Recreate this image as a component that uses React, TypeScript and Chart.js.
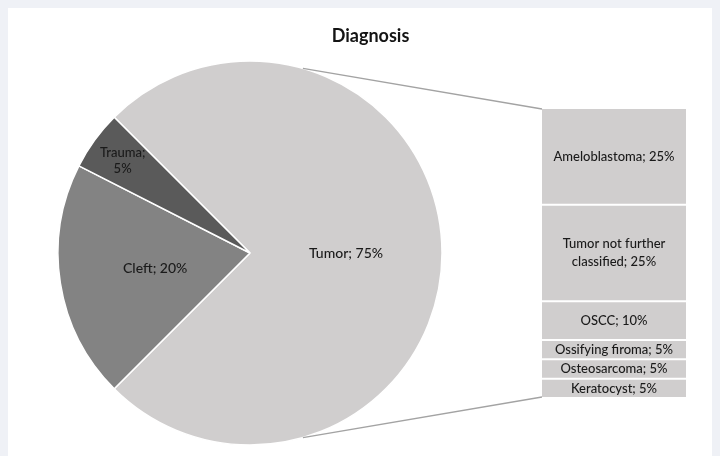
import { useEffect, useRef } from "react";
import Chart from "chart.js/auto";

// Main breakdown (percent of all cases)
const pieLabels = ["Tumor", "Cleft", "Trauma"];
const pieValues = [75, 20, 5];

// Breakdown of the tumor share (percent of all cases)
const tumorLabels = [
  "Ameloblastoma",
  "Tumor not further classified",
  "OSCC",
  "Ossifying firoma",
  "Osteosarcoma",
  "Keratocyst",
];
const tumorValues = [25, 25, 10, 5, 5, 5];

const chartTitle = "Diagnosis";

const W = 712;
const H = 448;
const LIGHT = "#d0cece";
const pieColors = [LIGHT, "#838383", "#5a5a5a"];
const FONT = "Lato, 'Open Sans', sans-serif";
const TEXT = "#1a1a1a";

function wrapText(ctx: CanvasRenderingContext2D, text: string, maxWidth: number): string[] {
  const words = text.split(" ");
  const lines: string[] = [];
  let line = "";
  for (const w of words) {
    const test = line ? line + " " + w : w;
    if (line && ctx.measureText(test).width > maxWidth) {
      lines.push(line);
      line = w;
    } else {
      line = test;
    }
  }
  if (line) lines.push(line);
  return lines;
}

const pieLabelPlugin = {
  id: "pieLabels",
  afterDatasetsDraw(chart: any) {
    const ctx: CanvasRenderingContext2D = chart.ctx;
    const meta = chart.getDatasetMeta(0);
    const total = pieValues.reduce((a, b) => a + b, 0);
    ctx.save();
    ctx.fillStyle = TEXT;
    ctx.textAlign = "center";
    ctx.textBaseline = "middle";
    meta.data.forEach((arc: any, i: number) => {
      const { x, y, startAngle, endAngle, outerRadius } = arc.getProps(
        ["x", "y", "startAngle", "endAngle", "outerRadius"],
        true
      );
      const mid = (startAngle + endAngle) / 2;
      const narrow = pieValues[i] / total < 0.1;
      const r = outerRadius * (narrow ? 0.82 : 0.5);
      const px = x + Math.cos(mid) * r;
      const py = y + Math.sin(mid) * r;
      if (narrow) {
        ctx.font = `500 13px ${FONT}`;
        const lines = [`${pieLabels[i]};`, `${pieValues[i]}%`];
        lines.forEach((l, k) => ctx.fillText(l, px, py + (k - (lines.length - 1) / 2) * 16));
      } else {
        ctx.font = `500 14px ${FONT}`;
        ctx.fillText(`${pieLabels[i]}; ${pieValues[i]}%`, px, py);
      }
    });
    ctx.restore();
  },
};

const barLabelPlugin = {
  id: "barLabels",
  afterDatasetsDraw(chart: any) {
    const ctx: CanvasRenderingContext2D = chart.ctx;
    ctx.save();
    ctx.fillStyle = TEXT;
    ctx.textAlign = "center";
    ctx.textBaseline = "middle";
    ctx.font = `500 13px ${FONT}`;
    tumorLabels.forEach((name, i) => {
      const el = chart.getDatasetMeta(i).data[0];
      const { x, y, base, width } = el.getProps(["x", "y", "base", "width"], true);
      const cy = (y + base) / 2;
      const lines = wrapText(ctx, `${name}; ${tumorValues[i]}%`, width - 8);
      const lh = 18;
      lines.forEach((l, k) => ctx.fillText(l, x, cy + (k - (lines.length - 1) / 2) * lh));
    });
    ctx.restore();
  },
};

export default function App() {
  const pieRef = useRef<HTMLCanvasElement>(null);
  const barRef = useRef<HTMLCanvasElement>(null);

  useEffect(() => {
    document.documentElement.style.overflow = "hidden";
    document.body.style.background = "#eff1f6";

    const pie = new Chart(pieRef.current!, {
      type: "pie",
      data: {
        labels: pieLabels,
        datasets: [
          {
            data: pieValues,
            backgroundColor: pieColors,
            borderColor: "#ffffff",
            borderWidth: 1.5,
          },
        ],
      },
      options: {
        responsive: false,
        animation: false,
        events: [],
        rotation: -45,
        radius: 192,
        layout: { padding: { left: 50, top: 53, right: 278, bottom: 11 } },
        plugins: { legend: { display: false }, tooltip: { enabled: false } },
      } as any,
      plugins: [pieLabelPlugin],
    });

    const tumorTotal = tumorValues.reduce((a, b) => a + b, 0);

    // Lines joining the tumor slice to the breakdown bar, plus the title
    const connectorPlugin = {
      id: "connectors",
      afterDraw(chart: any) {
        const ctx: CanvasRenderingContext2D = chart.ctx;
        const arc: any = pie.getDatasetMeta(0).data[0];
        const { x: cx, y: cy, outerRadius } = arc.getProps(["x", "y", "outerRadius"], true);
        const el = chart.getDatasetMeta(0).data[0];
        const { x, width } = el.getProps(["x", "width"], true);
        const left = x - width / 2;
        const yScale = chart.scales.y;
        const top = yScale.getPixelForValue(0);
        const bottom = yScale.getPixelForValue(tumorTotal);
        const aTop = ((-90 + 16) * Math.PI) / 180;
        const aBot = ((90 - 16) * Math.PI) / 180;
        ctx.save();
        ctx.strokeStyle = "#a3a3a3";
        ctx.lineWidth = 1.3;
        ctx.beginPath();
        ctx.moveTo(cx + Math.cos(aTop) * outerRadius, cy + Math.sin(aTop) * outerRadius);
        ctx.lineTo(left + 1, top + 1);
        ctx.moveTo(cx + Math.cos(aBot) * outerRadius, cy + Math.sin(aBot) * outerRadius);
        ctx.lineTo(left + 1, bottom - 1);
        ctx.stroke();

        ctx.fillStyle = "#141414";
        ctx.font = `bold 18px ${FONT}`;
        ctx.textAlign = "center";
        ctx.textBaseline = "middle";
        ctx.fillText(chartTitle, 362.5, 28);
        ctx.restore();
      },
    };

    const bar = new Chart(barRef.current!, {
      type: "bar",
      data: {
        labels: ["Tumor"],
        datasets: tumorLabels.map((name, i) => ({
          label: name,
          data: [tumorValues[i]],
          backgroundColor: LIGHT,
          borderColor: "#ffffff",
          borderWidth: 1,
          borderSkipped: false,
          inflateAmount: 0,
          barPercentage: 1,
          categoryPercentage: 1,
        })),
      },
      options: {
        responsive: false,
        animation: false,
        events: [],
        layout: { padding: { left: 533, right: 33, top: 100, bottom: 58 } },
        scales: {
          x: { stacked: true, display: false },
          y: { stacked: true, display: false, min: 0, max: tumorTotal, reverse: true },
        },
        plugins: { legend: { display: false }, tooltip: { enabled: false } },
      } as any,
      plugins: [barLabelPlugin, connectorPlugin],
    });

    return () => {
      bar.destroy();
      pie.destroy();
    };
  }, []);

  const canvasStyle: React.CSSProperties = {
    position: "absolute",
    left: 0,
    top: 0,
    width: W,
    height: H,
  };

  return (
    <div style={{ position: "relative", width: W, height: H, background: "#ffffff" }}>
      <canvas ref={pieRef} width={W} height={H} style={canvasStyle} />
      <canvas ref={barRef} width={W} height={H} style={canvasStyle} />
    </div>
  );
}
